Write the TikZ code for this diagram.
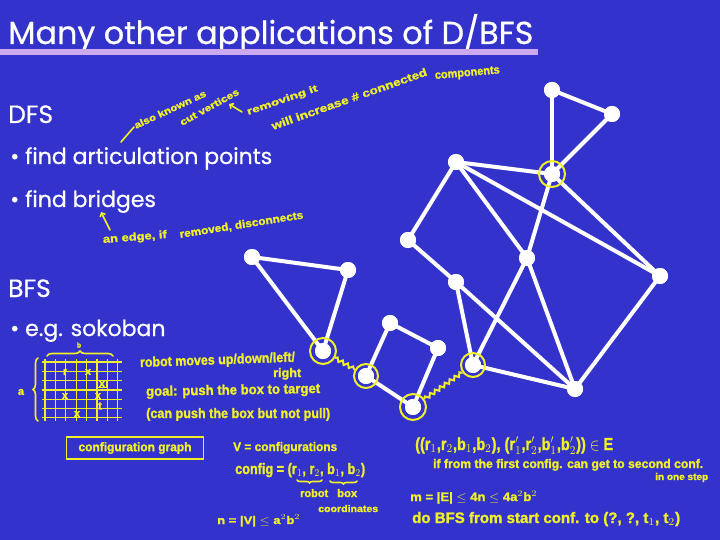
\documentclass[tikz,border=0pt]{standalone}
\usepackage{fontspec}
\usepackage{graphicx}
\usetikzlibrary{decorations.pathmorphing,decorations.pathreplacing,arrows.meta}
\setmainfont{Poppins}
\newfontfamily\slf{Poppins}[FakeBold=0.6]
\newfontfamily\hwf{Liberation Sans}[FakeBold=1.5]
\definecolor{bg}{RGB}{51,51,204}
\definecolor{hy}{RGB}{240,240,40}
\definecolor{lav}{RGB}{204,170,240}
\newcommand\hwt[3]{\resizebox{#1pt}{#2pt}{\hwf\bfseries\vphantom{A}#3}}
\tikzset{
  vtx/.style={circle,fill=white,inner sep=0pt,minimum size=16pt},
  edge/.style={white,line width=4pt},
  ring/.style={draw=hy,line width=2pt,circle,inner sep=0pt,minimum size=26pt},
  bridge/.style={hy,line width=2pt,decorate,decoration={snake,amplitude=1.8pt,segment length=6pt}},
  hw/.style={text=hy,inner sep=0pt,anchor=base west},
  hwline/.style={hy,line width=1.6pt,line cap=round},
  gridl/.style={hy,line width=1.3pt},
  slide/.style={text=white,inner sep=0pt,anchor=base west},
  mk/.style={text=hy,inner sep=0pt,font=\hwf\bfseries\fontsize{11}{11}\selectfont},
}
\begin{document}
\begin{tikzpicture}[x=1pt,y=-1pt]
\fill[bg] (0,0) rectangle (720,540);
\useasboundingbox (0,0) rectangle (720,540);
% title
\node[slide,font=\slf\fontsize{31.8}{32}\selectfont] (title) at (8,44) {Many other applications of D/BFS};
\fill[lav] (0,49) rectangle (538,55);
% slide text
\node[slide,font=\slf\fontsize{25}{25}\selectfont] (dfs) at (8,123) {DFS};
\node[slide,font=\slf\fontsize{22}{22}\selectfont] (art) at (10,164) {• find articulation points};
\node[slide,font=\slf\fontsize{22}{22}\selectfont] (bri) at (10,207) {• find bridges};
\node[slide,font=\slf\fontsize{25}{25}\selectfont] (bfs) at (8,297) {BFS};
\node[slide,font=\slf\fontsize{22}{22}\selectfont] (sok) at (10,336) {• e.g. sokoban};
% graph vertices
\node[vtx] (A) at (552,90) {};
\node[vtx] (B) at (612,114) {};
\node[vtx] (C) at (552,174) {};
\node[vtx] (D) at (456,162) {};
\node[vtx] (E) at (408,240) {};
\node[vtx] (F) at (527,258) {};
\node[vtx] (G) at (660,276) {};
\node[vtx] (H) at (456,282) {};
\node[vtx] (I) at (348,270) {};
\node[vtx] (Q) at (252,257) {};
\node[vtx] (J) at (323,351) {};
\node[vtx] (K) at (366,376) {};
\node[vtx] (L) at (390,323) {};
\node[vtx] (M) at (438,348) {};
\node[vtx] (N) at (413,407) {};
\node[vtx] (O) at (473,365) {};
\node[vtx] (P) at (575,389) {};
\foreach \u/\v in {A/B,A/C,B/C,C/D,C/F,C/G,D/E,D/F,D/G,E/H,H/O,H/P,F/O,F/P,G/P,O/P,Q/I,Q/J,I/J,K/L,L/M,M/N,K/N}
  \draw[edge] (\u.center) -- (\v.center);
\foreach \n in {A,B,C,D,E,F,G,H,I,Q,J,K,L,M,N,O,P}
  \fill[white] (\n) circle (8pt);
% rings and bridges
\node[ring] (rC) at (C) {};
\node[ring] (rJ) at (J) {};
\node[ring,minimum size=24pt] (rK) at (K) {};
\node[ring] (rN) at (N) {};
\node[ring,minimum size=24pt] (rO) at (O) {};
\draw[bridge] (rJ) -- (rK);
\draw[bridge] (rN) -- (rO);
% DFS annotations
\coordinate (s1) at (121,142);
\coordinate (s2) at (134,127);
\draw[hwline] (s1) -- (s2);
\node[hw,rotate=25] (a1) at (136,129) {\hwt{78}{7}{also known as}};
\node[hw,rotate=29] (a2) at (182,126) {\hwt{66}{7}{cut vertices}};
\coordinate (r1) at (242,112);
\coordinate (r2) at (229,104);
\draw[hwline,-{Straight Barb[length=3pt]}] (r1) -- (r2);
\node[hw,rotate=19] (a3) at (248,115) {\hwt{74}{7}{removing it}};
\node[hw,rotate=19.5] (a4) at (273,130) {\hwt{164}{8}{will increase \# connected}};
\node[hw,rotate=5] (a5) at (435,79) {\hwt{65}{8}{components}};
% bridges annotation
\coordinate (b1) at (110,230);
\coordinate (b2) at (101,212);
\draw[hwline,-{Straight Barb[length=3pt]}] (b1) -- (b2);
\node[hw,rotate=4.5] (e1) at (103,243) {\hwt{64}{8}{an edge, if}};
\node[hw,rotate=9] (e2) at (180,238) {\hwt{125}{8}{removed, disconnects}};
% sokoban grid
\foreach \i in {0,...,7} \draw[gridl] ({45+\i*10.4},359) -- ({45+\i*10.4},421);
\foreach \j in {0,...,6} \draw[gridl] (42,{362+\j*9.3}) -- (122,{362+\j*9.3});
\node[mk] (m1) at (65,372) {r};
\node[mk] (m2) at (88,372) {x};
\node[mk,draw=hy,line width=1pt,inner sep=1pt] (m3) at (102,384) {x};
\node[mk] (m4) at (65,396) {x};
\node[mk] (m5) at (98,396) {x};
\node[mk] (m6) at (100,406) {t};
\node[mk] (m7) at (77,414) {x};
\draw[hwline,decorate,decoration={brace,amplitude=5pt}] (47,356) -- (113,356);
\node[mk,font=\hwf\bfseries\fontsize{7}{7}\selectfont] (lb) at (79,345) {b};
\draw[hwline,decorate,decoration={brace,amplitude=5pt}] (38,421) -- (38,358);
\node[mk] (la) at (21,392) {a};
% sokoban text
\node[hw,rotate=2] (c1) at (140,367) {\hwt{155}{10}{robot moves up/down/left/}};
\node[hw] (c2) at (273,377) {\hwt{28}{9}{right}};
\node[hw,rotate=1] (c3) at (146,396) {\hwt{174}{10}{goal: push the box to target}};
\node[hw] (c4) at (146,418) {\hwt{184}{10}{(can push the box but not pull)}};
\node[draw=hy,line width=1.6pt,minimum width=137pt,minimum height=22pt,text=hy,inner sep=0pt] (cfg) at (135,448) {\hwt{113}{9}{configuration graph}};
\node[hw] (c6) at (233,451) {\hwt{104}{9}{V = configurations}};
\node[hw] (c7) at (235,474) {\hwt{130}{11}{config = (r$_1$, r$_2$, b$_1$, b$_2$)}};
\draw[hwline,decorate,decoration={brace,mirror,amplitude=3pt}] (297,480) -- (322,480);
\draw[hwline,decorate,decoration={brace,mirror,amplitude=3pt}] (330,481) -- (357,481);
\node[hw] (c8) at (300,497) {\hwt{28}{8}{robot}};
\node[hw] (c9) at (337,497) {\hwt{20}{8}{box}};
\node[hw] (c10) at (318,512) {\hwt{60}{7}{coordinates}};
\node[hw] (c11) at (217,524) {\hwt{83}{9}{n = |V| $\le$ a$^2$b$^2$}};
% right block
\node[hw] (d1) at (415,450) {\hwt{198}{13}{((r$_1$,r$_2$,b$_1$,b$_2$), (r$'_1$,r$'_2$,b$'_1$,b$'_2$)) $\in$ E}};
\node[hw] (d2) at (433,468) {\hwt{270}{9}{if from the first config. can get to second conf.}};
\node[hw] (d3) at (655,480) {\hwt{53}{7}{in one step}};
\node[hw] (d4) at (410,501) {\hwt{127}{10}{m = |E| $\le$ 4n $\le$ 4a$^2$b$^2$}};
\node[hw] (d5) at (412,523) {\hwt{268}{11}{do BFS from start conf. to (?, ?, t$_1$, t$_2$)}};
\end{tikzpicture}
\end{document}
